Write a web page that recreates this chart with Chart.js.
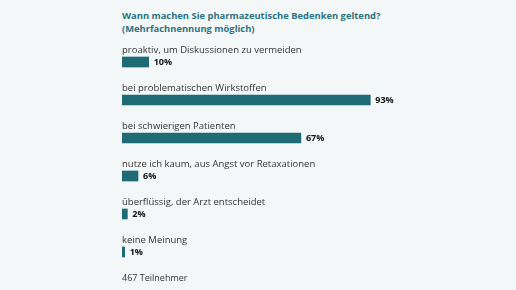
<!DOCTYPE html>
<html>
<head>
<meta charset="utf-8">
<script src="https://cdn.jsdelivr.net/npm/chart.js@4"></script>
<style>
  html, body { margin: 0; padding: 0; }
  body { width: 516px; height: 290px; background: #f3f7f8; position: relative; overflow: hidden; font-family: "Open Sans", sans-serif; }
  #titel { position: absolute; left: 122px; top: 9px; color: #2b7380; font-weight: bold; font-size: 9.4px; line-height: 13px; }
  #fuss { position: absolute; left: 122px; top: 271px; color: #333; font-size: 9px; }
  #wrap { position: absolute; left: 0; top: 0; width: 516px; height: 290px; }
</style>
</head>
<body>
<div id="titel">Wann machen Sie pharmazeutische Bedenken geltend?<br>(Mehrfachnennung möglich)</div>
<div id="wrap"><canvas id="umfrage"></canvas></div>
<div id="fuss">467 Teilnehmer</div>
<script>
    const antworten = [
        'proaktiv, um Diskussionen zu vermeiden',
        'bei problematischen Wirkstoffen',
        'bei schwierigen Patienten',
        'nutze ich kaum, aus Angst vor Retaxationen',
        'überflüssig, der Arzt entscheidet',
        'keine Meinung'
    ];
    const prozent = [10, 93, 67, 6, 2, 1];

    // Beschriftung über den Balken und Prozentwerte rechts daneben
    const beschriftung = {
        id: 'beschriftung',
        afterDatasetsDraw(chart) {
            const ctx = chart.ctx;
            const meta = chart.getDatasetMeta(0);
            ctx.save();
            ctx.textBaseline = 'middle';
            meta.data.forEach((bar, i) => {
                const left = chart.chartArea.left;
                ctx.fillStyle = '#333';
                ctx.font = '9.5px "Open Sans"';
                ctx.fillText(antworten[i], left, bar.y - 12);
                ctx.fillStyle = '#111';
                ctx.font = 'bold 9px "Open Sans"';
                ctx.fillText(prozent[i] + '%', bar.x + 5, bar.y + 0.5);
            });
            ctx.restore();
        }
    };

    const ctx = document.getElementById('umfrage').getContext('2d');
    new Chart(ctx, {
        type: 'bar',
        data: {
            labels: antworten,
            datasets: [{
                data: prozent,
                backgroundColor: '#1f6b75',
                barThickness: 10
            }]
        },
        options: {
            indexAxis: 'y',
            responsive: true,
            maintainAspectRatio: false,
            animation: false,
            layout: { padding: { left: 122, right: 127, top: 43, bottom: 19 } },
            scales: {
                x: { display: false, min: 0, max: 100 },
                y: { display: false }
            },
            plugins: {
                legend: { display: false },
                tooltip: { enabled: false }
            }
        },
        plugins: [beschriftung]
    });
</script>
</body>
</html>
